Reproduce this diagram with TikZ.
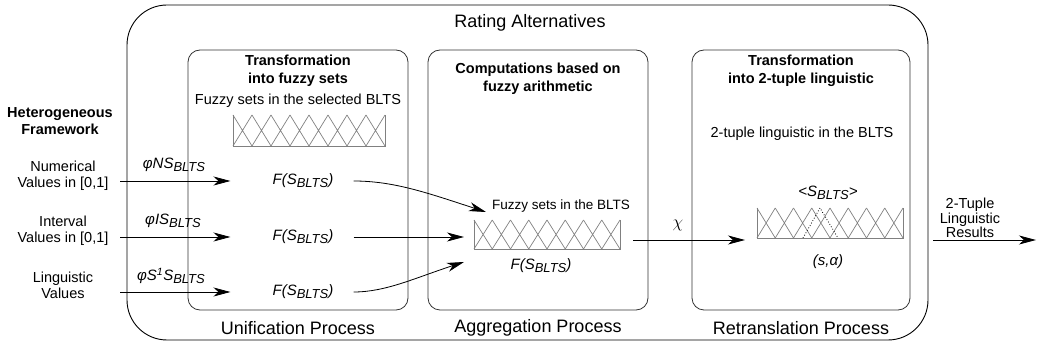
\documentclass[tikz,border=0pt]{standalone}
\usepackage{fontspec}
\setmainfont{Liberation Sans}
\usetikzlibrary{arrows.meta,positioning}

\tikzset{
  procbox/.style={draw=black!80, rounded corners=12pt, line width=0.8pt, minimum width=220pt, minimum height=260pt},
  proclabel/.style={font=\fontsize{18}{21}\selectfont, inner sep=0pt},
  txt/.style={font=\fontsize{14.5}{16}\selectfont, align=center, inner sep=0pt},
  boldtxt/.style={font=\fontsize{14.5}{17.5}\selectfont\bfseries, align=center, inner sep=0pt},
  fz/.style={font=\fontsize{15}{16}\selectfont\itshape, inner sep=0pt},
  conn/.style={->, line width=0.8pt},
}
% subscript as in the figure
\newcommand{\blts}{\raisebox{-0.35ex}{\fontsize{13}{13}\selectfont BLTS}}
% fuzzy partition: left x, top y, step, height
\newcommand{\fuzzyset}[4]{%
  \draw[black!50, line width=0.7pt] (#1,#2) -- (#1,#2+#4) -- (#1+8*#3,#2+#4) -- (#1+8*#3,#2);
  \foreach \i in {0,...,7}{
    \draw[black!50, line width=0.7pt] (#1+\i*#3,#2) -- (#1+\i*#3+#3,#2+#4)
      (#1+\i*#3,#2+#4) -- (#1+\i*#3+#3,#2);
  }
}

\begin{document}
\begin{tikzpicture}[x=1pt, y=-1pt, >={Stealth[length=17pt,width=9pt,inset=5pt]}]
  \useasboundingbox (0,0) rectangle (1037,347);

  % Rating alternatives frame
  \draw[line width=0.9pt, rounded corners=40pt] (127,5) rectangle (928,340);
  \node[proclabel] (rating) at (530,23) {Rating Alternatives};

  % Process boxes
  \node[procbox] (unif) at (298,180) {};
  \node[procbox] (aggr) at (538,180) {};
  \node[procbox, minimum width=218pt] (retr) at (801,180) {};
  \node[proclabel] (unifl) at (298,328) {Unification Process};
  \node[proclabel] (aggrl) at (538,328) {Aggregation Process};
  \node[proclabel] (retrl) at (801,328) {Retranslation Process};

  % Heterogeneous framework
  \node[boldtxt] (het) at (60,121) {Heterogeneous\\Framework};
  \node[txt] (num) at (63,176) {Numerical\\Values in [0,1]};
  \node[txt] (int) at (63,231) {Interval\\Values in [0,1]};
  \node[txt] (lin) at (63,285) {Linguistic\\Values};
  \coordinate (n1) at (120,181);
  \coordinate (n2) at (120,237);
  \coordinate (n3) at (120,292);

  % Unification
  \node[boldtxt] (t1) at (298,71) {Transformation\\into fuzzy sets};
  \node[txt] (s1) at (298,101) {Fuzzy sets in the selected BLTS};
  \fuzzyset{233}{115}{19}{31}
  \node[fz] (f1) at (303,181) {F(S\blts)};
  \node[fz] (f2) at (303,237) {F(S\blts)};
  \node[fz] (f3) at (303,292) {F(S\blts)};
  \node[fz] (phi1) at (174,165) {φNS\blts};
  \node[fz] (phi2) at (173,221) {φIS\blts};
  \node[fz] (phi3) at (171,276) {φS\textsuperscript{1}S\blts};
  \draw[conn, shorten >=42pt] (n1) -- (f1);
  \draw[conn, shorten >=42pt] (n2) -- (f2);
  \draw[conn, shorten >=42pt] (n3) -- (f3);

  % Aggregation
  \node[boldtxt] (t2) at (538,79) {Computations based on\\fuzzy arithmetic};
  \node[txt, font=\fontsize{13.5}{15}\selectfont] (s2) at (561,206) {Fuzzy sets in the BLTS};
  \fuzzyset{474}{220}{18.25}{29}
  \node[fz] (f4) at (541,266) {F(S\blts)};
  \coordinate (in1) at (486,212);
  \coordinate (in2) at (464,237);
  \coordinate (in3) at (464,262);
  \draw[conn, shorten <=20pt] (f1.east) to[out=0, in=162] (in1);
  \draw[conn, shorten <=20pt] (f2.east) -- (in2);
  \draw[conn, shorten <=20pt] (f3.east) to[out=0, in=198] (in3);

  % Retranslation
  \node[boldtxt] (t3) at (801,71) {Transformation\\into 2-tuple linguistic};
  \node[txt] (s3) at (802,134) {2-tuple linguistic in the BLTS};
  \node[fz] (sb) at (828,193) {<S\blts>};
  \fuzzyset{757}{208}{18.25}{30}
  \draw[dotted, line width=0.8pt] (803,238) -- (820,208) -- (838,238);
  \node[fz] (sa) at (828,262) {(s,α)};

  % chi
  \coordinate (c1) at (633,240);
  \coordinate (c2) at (745,240);
  \draw[conn] (c1) -- (c2) node[pos=0.4, above=5pt, font=\fontsize{18}{18}\selectfont] {$\chi$};

  % Results
  \node[font=\fontsize{14.5}{13.5}\selectfont, align=center, inner sep=0pt] (res) at (970,218) {2-Tuple\\Linguistic\\Results};
  \coordinate (o1) at (933,240);
  \coordinate (o2) at (1036,240);
  \draw[conn] (o1) -- (o2);
\end{tikzpicture}
\end{document}
